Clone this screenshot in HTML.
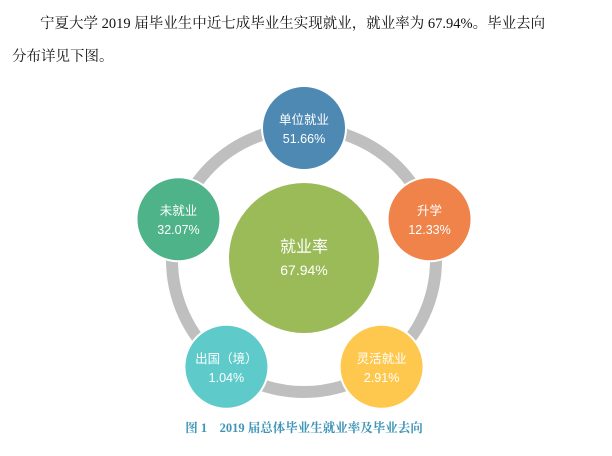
<!DOCTYPE html>
<html><head><meta charset="utf-8">
<style>
body{margin:0;width:612px;height:456px;background:#fff;overflow:hidden;position:relative;font-family:"Liberation Serif","Noto Serif CJK SC",serif;}
.p{position:absolute;font-size:14.5px;color:#111;white-space:nowrap;}
</style></head><body>
<div class="p" style="left:40px;top:12px;">宁夏大学 2019 届毕业生中近七成毕业生实现就业，就业率为 67.94%。毕业去向</div>
<div class="p" style="left:12px;top:45px;">分布详见下图。</div>
<svg width="612" height="456" style="position:absolute;left:0;top:0">
<g id="g"></g>
<text x="304" y="432" text-anchor="middle" font-family="Liberation Serif,Noto Serif CJK SC,serif" font-weight="bold" font-size="12.5" fill="#3f95b8">图 1　2019 届总体毕业生就业率及毕业去向</text>
</svg>
<script>
const labels=["单位就业","升学","灵活就业","出国（境）","未就业"];
const values=["51.66%","12.33%","2.91%","1.04%","32.07%"];
const colors=["#4e89b4","#ef834a","#fec84e","#5ecbca","#4eb389"];
const centerLabel="就业率", centerValue="67.94%";
const cx=304, cy=260, R=132, r=42;
const g=document.getElementById('g');
const ns="http://www.w3.org/2000/svg";
function mk(t,a){const e=document.createElementNS(ns,t);for(const k in a)e.setAttribute(k,a[k]);g.appendChild(e);return e;}
const ring=mk('circle',{cx:cx,cy:cy,r:R,fill:'none',stroke:'#bfbfbf','stroke-width':12});


const c0=mk('circle',{cx:cx,cy:cy-2,r:76,fill:'#9bbb59',stroke:'#fff','stroke-width':2});


const t1=mk('text',{x:cx,y:cy-8,'text-anchor':'middle','font-size':16,fill:'#fff','font-family':'Liberation Sans,Noto Sans CJK SC,sans-serif'});t1.textContent=centerLabel;


const t2=mk('text',{x:cx,y:cy+15,'text-anchor':'middle','font-size':14,fill:'#fff','font-family':'Liberation Sans,Noto Sans CJK SC,sans-serif'});t2.textContent=centerValue;


labels.forEach((l,i)=>{
  const a=-Math.PI/2+i*2*Math.PI/labels.length;
  const x=cx+R*Math.cos(a), y=cy+R*Math.sin(a)+(i==0?0:0);
  const c=mk('circle',{cx:x,cy:y,r:r,fill:colors[i],stroke:'#fff','stroke-width':2});
  
  
  const a1=mk('text',{x:x,y:y-4,'text-anchor':'middle','font-size':12.5,fill:'#fff','font-family':'Liberation Sans,Noto Sans CJK SC,sans-serif'});a1.textContent=l;
  
  
  const a2=mk('text',{x:x,y:y+15,'text-anchor':'middle','font-size':12.5,fill:'#fff','font-family':'Liberation Sans,Noto Sans CJK SC,sans-serif'});a2.textContent=values[i];
  
  
});
</script>
</body></html>
